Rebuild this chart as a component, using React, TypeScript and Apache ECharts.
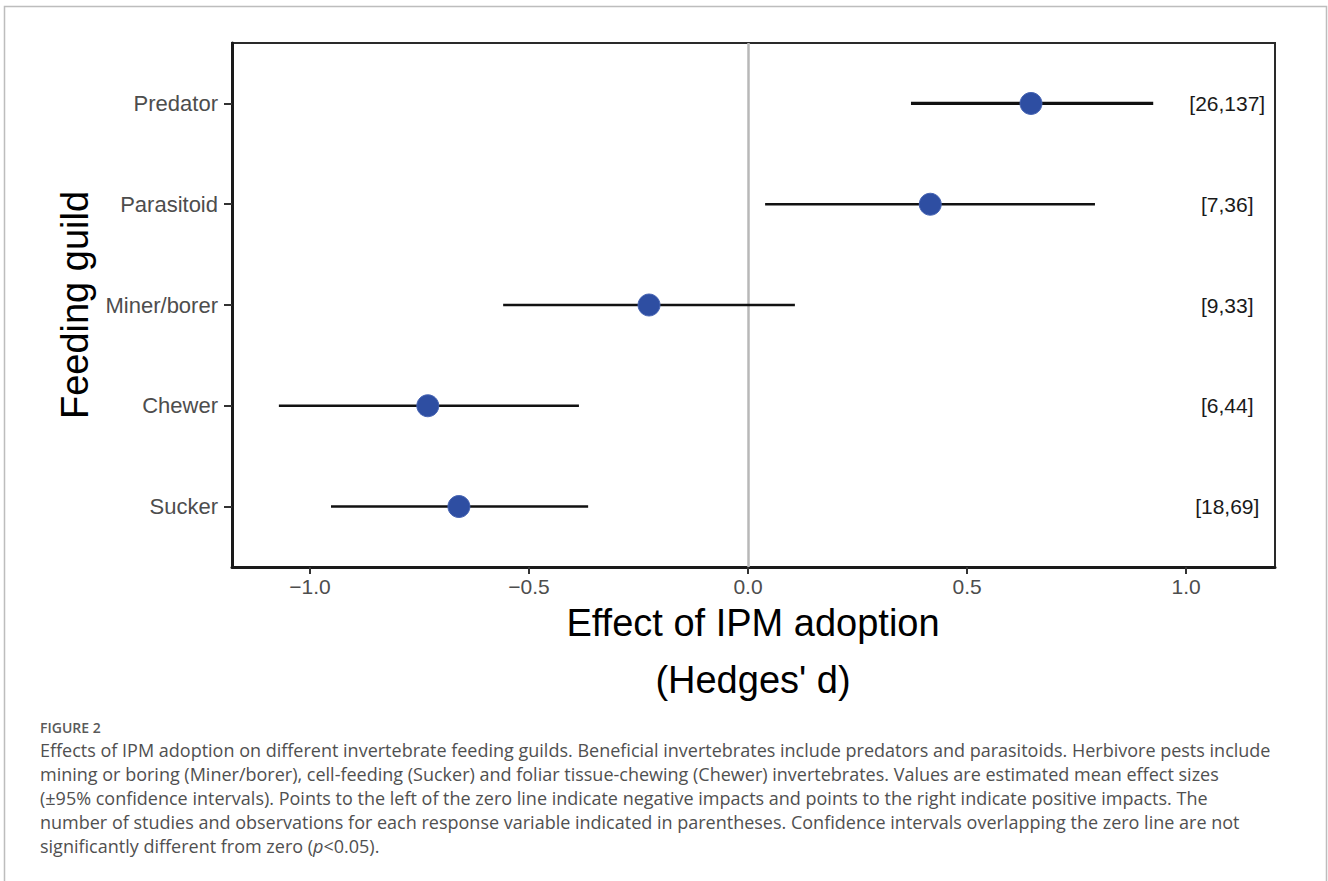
import React, { useEffect, useRef } from "react";
import * as echarts from "echarts";

// Feeding guilds, bottom to top (y positions 1..5)
const guilds = ["Sucker", "Chewer", "Miner/borer", "Parasitoid", "Predator"];
const means = [-0.66, -0.731, -0.226, 0.416, 0.646];
const lower = [-0.952, -1.071, -0.559, 0.039, 0.372];
const upper = [-0.365, -0.386, 0.107, 0.792, 0.925];
const counts = ["[18,69]", "[6,44]", "[9,33]", "[7,36]", "[26,137]"];
const xTicks = [-1.0, -0.5, 0.0, 0.5, 1.0];
const yTicks = [1, 2, 3, 4, 5];

const captionTitle = "FIGURE 2";
const captionLines = [
  "Effects of IPM adoption on different invertebrate feeding guilds. Beneficial invertebrates include predators and parasitoids. Herbivore pests include",
  "mining or boring (Miner/borer), cell-feeding (Sucker) and foliar tissue-chewing (Chewer) invertebrates. Values are estimated mean effect sizes",
  "(±95% confidence intervals). Points to the left of the zero line indicate negative impacts and points to the right indicate positive impacts. The",
  "number of studies and observations for each response variable indicated in parentheses. Confidence intervals overlapping the zero line are not",
  "significantly different from zero ({i|p}<0.05).",
];

const FONT = "'Liberation Sans', Arial, sans-serif";
const CAP_FONT = "'Open Sans', 'Noto Sans', sans-serif";

export default function App() {
  const ref = useRef<HTMLDivElement>(null);

  useEffect(() => {
    document.body.style.margin = "0";
    if (!ref.current) return;
    const chart = echarts.init(ref.current, null, { renderer: "svg" });

    const fmtX = (v: number) => {
      const s = Math.abs(v).toFixed(1);
      return v < -1e-9 ? "\u2212" + s : s;
    };

    const barData = guilds.map((_, i) => [lower[i], upper[i], i + 1]);
    const pointData = guilds.map((_, i) => [means[i], i + 1]);
    const countData = guilds.map((_, i) => [1.094, i + 1]);

    const option: any = {
      animation: false,
      backgroundColor: "#ffffff",
      grid: {
        left: 232,
        top: 43,
        right: 53,
        bottom: 314,
        show: true,
        borderColor: "#2a2a2a",
        borderWidth: 2,
        backgroundColor: "transparent",
      },
      xAxis: {
        type: "value",
        min: -1.178,
        max: 1.203,
        splitLine: { show: false },
        axisLine: { show: true, onZero: false, lineStyle: { color: "#1a1a1a", width: 3 } },
        axisTick: {
          show: true,
          length: 7,
          lineStyle: { color: "#333", width: 2 },
          customValues: xTicks,
        },
        axisLabel: {
          customValues: xTicks,
          formatter: (v: number) => fmtX(v),
          fontFamily: FONT,
          fontSize: 21,
          color: "#4d4d4d",
          margin: 9,
        },
      },
      yAxis: {
        type: "value",
        min: 0.4,
        max: 5.6,
        splitLine: { show: false },
        axisLine: { show: true, onZero: false, lineStyle: { color: "#1a1a1a", width: 3 } },
        axisTick: {
          show: true,
          length: 8,
          lineStyle: { color: "#333", width: 2 },
          customValues: yTicks,
        },
        axisLabel: {
          customValues: yTicks,
          formatter: (v: number) => guilds[Math.round(v) - 1] ?? "",
          fontFamily: FONT,
          fontSize: 22,
          color: "#4d4d4d",
          margin: 14,
        },
      },
      series: [
        {
          type: "custom",
          z: 3,
          silent: true,
          encode: { x: [0, 1], y: 2 },
          data: barData,
          renderItem: (params: any, api: any) => {
            const y = api.value(2);
            const a = api.coord([api.value(0), y]);
            const b = api.coord([api.value(1), y]);
            return {
              type: "line",
              shape: { x1: a[0], y1: a[1], x2: b[0], y2: b[1] },
              style: { stroke: "#111111", lineWidth: params.dataIndex === 4 ? 3.3 : 2.6 },
            };
          },
        },
        {
          type: "scatter",
          z: 4,
          silent: true,
          data: pointData,
          symbol: "circle",
          symbolSize: 22,
          itemStyle: { color: "#2e4ea2", borderColor: "#4664b4", borderWidth: 1, opacity: 1 },
          markLine: {
            silent: true,
            symbol: "none",
            z: 1,
            label: { show: false },
            lineStyle: { color: "#b8b8b8", width: 2.5, type: "solid", opacity: 1 },
            data: [{ xAxis: 0 }],
          },
        },
        {
          type: "custom",
          z: 5,
          silent: true,
          encode: { x: 0, y: 1 },
          data: countData,
          renderItem: (params: any, api: any) => {
            const p = api.coord([api.value(0), api.value(1)]);
            return {
              type: "text",
              x: p[0],
              y: p[1],
              style: {
                text: counts[params.dataIndex],
                fontFamily: FONT,
                fontSize: 21,
                fill: "#1a1a1a",
                align: "center",
                verticalAlign: "middle",
              },
            };
          },
        },
      ],
      graphic: [
        {
          type: "rect",
          silent: true,
          shape: { x: 4.5, y: 6.5, width: 1322, height: 900 },
          style: { fill: "none", stroke: "#bdbdbd", lineWidth: 1.5 },
          z: -10,
        },
        {
          type: "text",
          x: 75,
          y: 305,
          rotation: Math.PI / 2,
          style: {
            text: "Feeding guild",
            fontFamily: FONT,
            fontSize: 38,
            fill: "#000",
            align: "center",
            verticalAlign: "middle",
          },
        },
        {
          type: "text",
          x: 753,
          y: 623,
          style: {
            text: "Effect of IPM adoption",
            fontFamily: FONT,
            fontSize: 38,
            fill: "#000",
            align: "center",
            verticalAlign: "middle",
          },
        },
        {
          type: "text",
          x: 753,
          y: 680,
          style: {
            text: "(Hedges' d)",
            fontFamily: FONT,
            fontSize: 38,
            fill: "#000",
            align: "center",
            verticalAlign: "middle",
          },
        },
        {
          type: "text",
          x: 40,
          y: 727,
          style: {
            text: captionTitle,
            fontFamily: CAP_FONT,
            fontSize: 14,
            fontWeight: 600,
            fill: "#5a5a5a",
            align: "left",
            verticalAlign: "middle",
          },
        },
        ...captionLines.map((t, i) => ({
          type: "text",
          x: 40,
          y: 750 + i * 24,
          style: {
            text: t,
            fontFamily: CAP_FONT,
            fontSize: 18,
            fill: "#505050",
            align: "left",
            verticalAlign: "middle",
            rich: { i: { fontStyle: "italic", fontFamily: CAP_FONT, fontSize: 18, fill: "#505050" } },
          },
        })),
      ],
    };

    chart.setOption(option);
    return () => chart.dispose();
  }, []);

  return <div ref={ref} style={{ width: 1328, height: 881 }} />;
}
